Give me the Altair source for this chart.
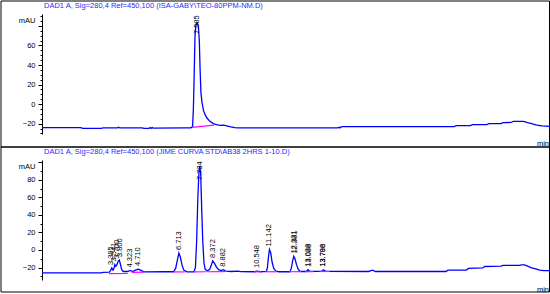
import altair as alt
import numpy as np
import pandas as pd

FONT = "Liberation Sans"
FS = 7.5
BLUE = "#0000ff"
TITLE_BLUE = "#2a2aff"
MAGENTA = "#ff00ff"
PLOT_W = 508
PLOT_H = 120
X_DOMAIN = [0, 24.9]
x_ticks = list(range(0, 25))

# ---------------- top panel ----------------
top_title = "DAD1 A, Sig=280,4 Ref=450,100 (ISA-GABY\\TEO-80PPM-NM.D)"
top_t = [0.0, 1.9, 2.0, 2.9, 3.0, 3.7, 3.75, 3.8, 4.9, 5.0, 5.25, 5.3, 5.35, 5.4, 5.45,
         7.0, 7.30, 7.38, 7.42, 7.46, 7.50, 7.55, 7.62, 7.67, 7.71, 7.75, 7.79, 7.84,
         7.92, 8.00, 8.08, 8.20, 8.40, 8.60, 8.75, 8.90, 9.05, 9.25, 9.45, 9.60, 11.0,
         14.5, 14.55, 14.6, 14.65, 14.7, 14.8, 20.2, 20.3, 21.0, 21.1, 21.8, 21.9, 22.5,
         22.6, 23.0, 23.1, 23.6, 23.8, 24.0, 24.2, 24.5, 24.9]
top_v = [-24.0, -24.0, -24.8, -24.8, -24.3, -24.3, -23.6, -24.3, -24.3, -24.8, -24.8, -24.0,
         -24.8, -24.0, -24.5, -24.3, -24.2, -23.0, -5.0, 30.0, 70.0, 82.0, 83.0, 78.0, 65.0,
         35.0, 12.0, 2.0, -7.0, -11.0, -14.0, -17.0, -20.0, -21.3, -21.8, -21.5, -22.2,
         -23.2, -24.0, -24.3, -24.3, -24.3, -23.6, -24.3, -23.6, -23.0, -23.0, -23.0, -22.0,
         -22.0, -21.0, -21.0, -20.0, -20.0, -19.0, -18.8, -17.6, -17.6, -19.0, -20.0, -21.3,
         -22.2, -22.8]
top_base_seg = [0, 0]
top_base_t = [7.38, 8.43]
top_base_v = [-23.8, -21.6]
top_peak_rt = [7.585]
top_peak_h = [83.0]
top_peak_lbl = ["7.585"]
top_y_domain = [-30.6, 92.2]
top_y_major = [-20, 0, 20, 40, 60, 80]
top_y_minor = list(range(-30, 91, 5))

# ---------------- bottom panel ----------------
bot_title = "DAD1 A, Sig=280,4 Ref=450,100 (JIME CURVA STD\\AB38 2HRS 1-10.D)"
bot_t = [0.0, 2.9, 3.0, 3.3, 3.36, 3.42, 3.48, 3.52, 3.57, 3.62, 3.67, 3.73, 3.79, 3.84,
         3.90, 3.98, 4.20, 4.32, 4.45, 4.58, 4.72, 4.86, 5.0, 6.0, 6.45, 6.55, 6.63, 6.71,
         6.78, 6.86, 6.95, 7.10, 7.45, 7.52, 7.58, 7.64, 7.70, 7.74, 7.78, 7.83, 7.88, 7.94,
         8.00, 8.10, 8.22, 8.30, 8.37, 8.45, 8.55, 8.66, 8.78, 8.88, 9.0, 9.3, 9.6, 9.75,
         10.4, 10.55, 10.7, 11.0, 11.05, 11.10, 11.15, 11.21, 11.28, 11.36, 11.46, 11.6,
         12.15, 12.22, 12.28, 12.34, 12.40, 12.48, 12.56, 12.66, 12.95, 13.04, 13.12, 13.70,
         13.80, 13.90, 16.0, 16.2, 16.35, 19.8, 19.9, 20.8, 20.9, 21.6, 21.7, 22.5, 22.6,
         23.4, 23.5, 23.65, 23.8, 24.0, 24.2, 24.4, 24.6, 24.9]
bot_v = [-26.0, -26.0, -25.5, -25.3, -23.5, -20.5, -23.0, -21.5, -16.5, -18.5, -17.0, -13.0,
         -11.5, -16.0, -22.0, -24.5, -24.5, -23.3, -24.5, -23.0, -21.8, -23.2, -25.0, -24.8,
         -24.8, -21.0, -12.0, -3.5, -8.0, -17.0, -23.0, -25.0, -25.0, -20.0, 10.0, 60.0,
         92.0, 95.5, 86.0, 45.0, 10.0, -15.0, -22.0, -24.0, -22.0, -17.0, -12.5, -15.0,
         -19.5, -22.5, -23.5, -22.5, -24.0, -24.5, -24.0, -24.6, -24.8, -24.0, -24.8, -24.5,
         -20.0, -8.0, 0.5, -3.0, -14.0, -21.0, -24.0, -24.8, -24.8, -21.0, -13.0, -7.2,
         -10.0, -17.0, -22.0, -24.5, -24.5, -22.5, -24.3, -24.3, -22.5, -24.3, -24.5, -23.0,
         -24.5, -24.5, -23.0, -22.8, -21.0, -20.5, -18.8, -18.5, -17.6, -17.6, -17.0, -17.0,
         -18.5, -20.3, -21.5, -23.0, -23.5, -23.5]
bot_base_seg = [0, 0, 1, 1, 2, 2, 3, 3, 4, 4, 5, 5, 6, 6, 7, 7, 8, 8, 9, 9, 10, 10]
bot_base_t = [3.28, 4.20, 4.40, 5.00, 6.45, 7.00, 7.45, 8.05, 8.10, 8.75, 8.75, 9.05,
              10.40, 10.75, 10.95, 11.50, 12.10, 12.70, 12.90, 13.30, 13.60, 14.10]
bot_base_v = [-27.0, -26.8, -25.6, -25.2, -25.0, -25.0, -25.0, -24.8, -24.8, -24.6, -24.6,
              -24.5, -25.0, -24.8, -24.8, -24.8, -24.8, -24.7, -24.7, -24.6, -24.5, -24.5]
bot_peak_rt = [3.395, 3.541, 3.700, 3.800, 4.323, 4.710, 6.713, 7.734, 8.372, 8.882,
               10.548, 11.142, 12.331, 12.381, 13.038, 13.088, 13.788, 13.796]
bot_peak_h = [-20.5, -16.5, -13.0, -11.5, -23.3, -21.8, -3.5, 95.5, -12.5, -22.5,
              -24.0, 0.5, -7.2, -7.5, -22.5, -22.5, -22.5, -22.5]
bot_peak_lbl = ["3.395", "3.541", "3.700", "3.800", "4.323", "4.710", "6.713", "7.734",
                "8.372", "8.882", "10.548", "11.142", "12.331", "12.381", "13.038",
                "13.088", "13.788", "13.796"]
bot_y_domain = [-34.2, 102.5]
bot_y_major = [-20, 0, 20, 40, 60, 80, 100]
bot_y_minor = list(range(-30, 101, 10))


def panel(title, t, v, bseg, bt, bv, prt, ph, plbl, ydom, ymaj, ymin_, mau_off, frame_bottom):
    trace = pd.DataFrame({"t": t, "v": v})
    base = pd.DataFrame({"seg": bseg, "t": bt, "v": bv})
    ppu = PLOT_H / (ydom[1] - ydom[0])
    ly = np.minimum(np.array(ph, dtype=float), ydom[1] - 23.0 / ppu)
    peaks = pd.DataFrame({"t": prt, "v": ly, "lbl": plbl})
    xs = alt.Scale(domain=X_DOMAIN, nice=False, zero=False)
    ys = alt.Scale(domain=ydom, nice=False, zero=False)
    top_val = ymaj[-1]

    x_axis = alt.Axis(values=x_ticks, labelExpr="datum.value % 5 == 0 ? datum.label : ''",
                      tickSize=3, labelPadding=3, domainColor="black", tickColor="black",
                      labelColor="black", labelFontSize=FS, labelFont=FONT, title=None,
                      grid=False, labelFlush=False, labelOverlap=False, domainWidth=1,
                      tickWidth=1)
    y_axis = alt.Axis(values=ymaj, orient="left",
                      labelExpr=f"datum.value == {top_val} ? 'mAU' : datum.label",
                      labelOffset={"condition": {"test": f"datum.value == {top_val}", "value": mau_off}, "value": 0},
                      tickSize=4, labelPadding=3, domainColor="black", tickColor="black",
                      labelColor="black", labelFontSize=FS, labelFont=FONT, title=None,
                      grid=False, labelFlush=False, labelOverlap=False, domainWidth=1,
                      tickWidth=1)
    y_minor_axis = alt.Axis(values=ymin_, orient="left", labels=False, domain=False,
                            tickSize=2, tickColor="black", tickWidth=1, title=None, grid=False)

    line = alt.Chart(trace).mark_line(color=BLUE, strokeWidth=1.3, clip=True).encode(
        x=alt.X("t:Q", scale=xs, axis=x_axis), y=alt.Y("v:Q", scale=ys, axis=y_axis))
    minor = alt.Chart(trace).mark_line(opacity=0).encode(
        x=alt.X("t:Q", scale=xs, axis=None), y=alt.Y("v:Q", scale=ys, axis=y_minor_axis))
    basel = alt.Chart(base).mark_line(color=MAGENTA, strokeWidth=1.2).encode(
        x=alt.X("t:Q", scale=xs, axis=None), y=alt.Y("v:Q", scale=ys, axis=None),
        detail="seg:N")
    labels = alt.Chart(peaks).mark_text(angle=270, align="left", baseline="middle", dx=3,
                                        fontSize=FS, font=FONT, color="black").encode(
        x=alt.X("t:Q", scale=xs, axis=None), y=alt.Y("v:Q", scale=ys, axis=None),
        text="lbl:N")
    ttl = alt.Chart(pd.DataFrame({"txt": [title]})).mark_text(
        align="left", baseline="middle", fontSize=FS, font=FONT, color=TITLE_BLUE).encode(
        x=alt.value(2), y=alt.value(-8), text="txt:N")
    minlbl = alt.Chart(pd.DataFrame({"txt": ["min"]})).mark_text(
        align="right", baseline="middle", fontSize=FS, font=FONT, color="black").encode(
        x=alt.value(PLOT_W - 1), y=alt.value(PLOT_H + 10), text="txt:N")
    frame = alt.Chart(pd.DataFrame({"a": [0]})).mark_rect(
        fillOpacity=0, stroke="black", strokeWidth=1).encode(
        x=alt.value(-41), x2=alt.value(PLOT_W - 0.5), y=alt.value(-13),
        y2=alt.value(frame_bottom))
    return alt.layer(frame, line, minor, basel, labels, ttl, minlbl).resolve_axis(
        y="independent").properties(width=PLOT_W, height=PLOT_H)


top = panel(top_title, top_t, top_v, top_base_seg, top_base_t, top_base_v, top_peak_rt,
            top_peak_h, top_peak_lbl, top_y_domain, top_y_major, top_y_minor, -5, 133)
bottom = panel(bot_title, bot_t, bot_v, bot_base_seg, bot_base_t, bot_base_v, bot_peak_rt,
               bot_peak_h, bot_peak_lbl, bot_y_domain, bot_y_major, bot_y_minor, 4, 132)

chart = alt.vconcat(top, bottom, spacing=26, bounds="flush").properties(
    padding=0, background="white").configure_view(stroke=None)

chart.save("out.html", embed_options={"renderer": "svg", "actions": False})
